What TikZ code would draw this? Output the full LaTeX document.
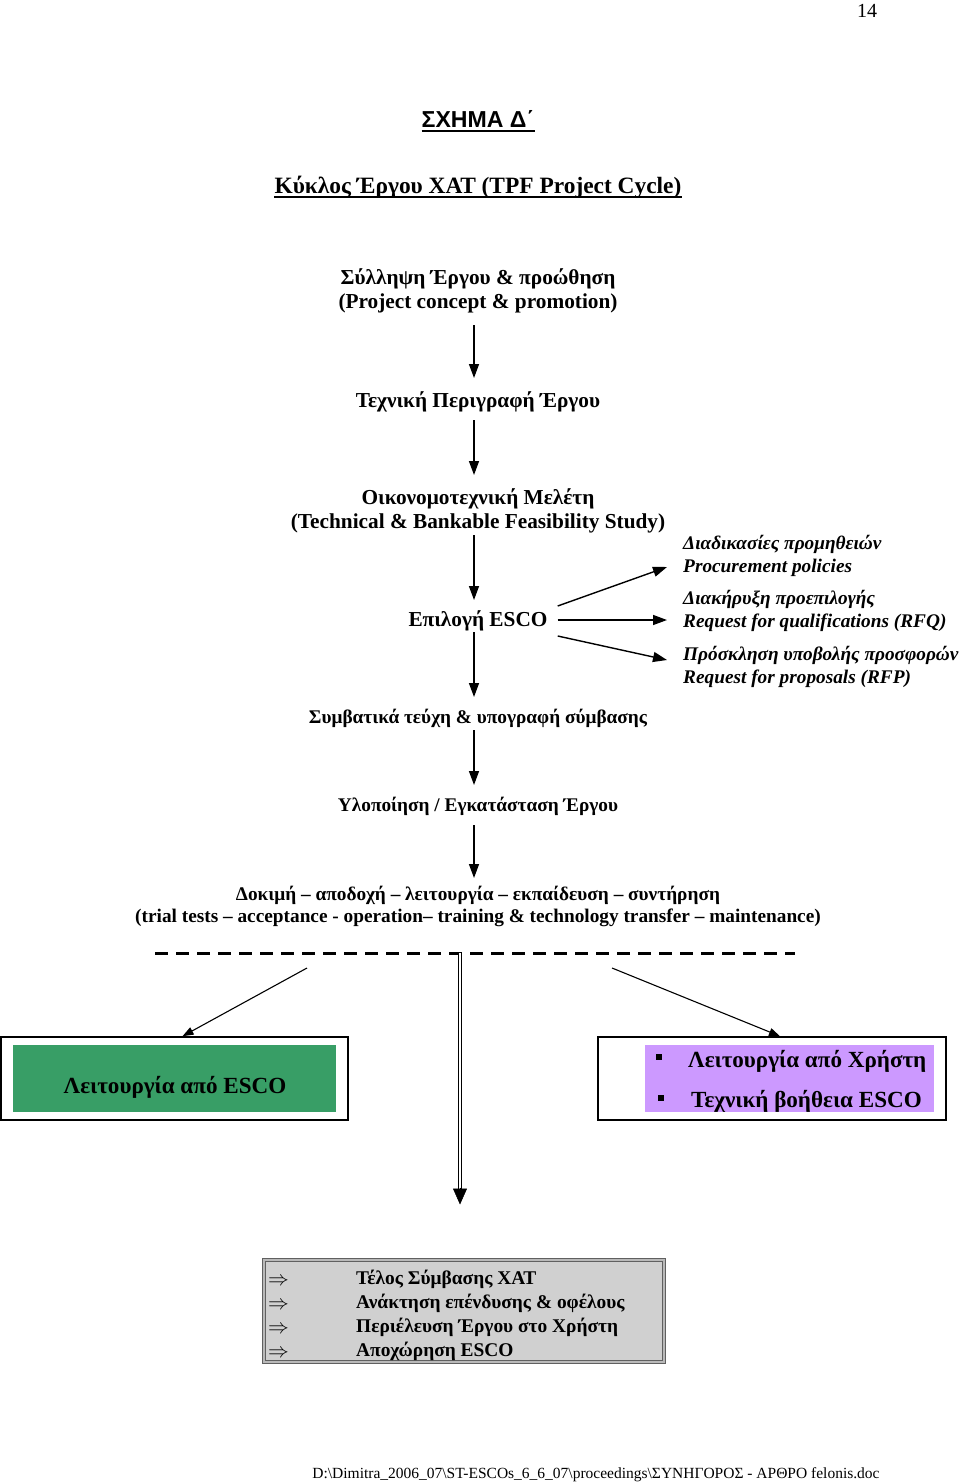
\documentclass[tikz,border=0pt]{standalone}
\usepackage{fontspec}
\setmainfont{Liberation Serif}
\newfontfamily\arialfont{Liberation Sans}
\usetikzlibrary{arrows.meta}
\definecolor{escogreen}{HTML}{389E66}
\definecolor{userpurple}{HTML}{CC99FF}
\definecolor{endgrey}{HTML}{D0D0D0}
\tikzset{
  txt/.style={inner sep=0pt, anchor=base, align=center, font=\bfseries\fontsize{21.3}{24}\selectfont},
  smalltxt/.style={inner sep=0pt, anchor=base, align=center, font=\bfseries\fontsize{19.3}{22}\selectfont},
  itxt/.style={inner sep=0pt, anchor=base west, align=left, font=\bfseries\itshape\fontsize{19.3}{23}\selectfont},
  boxtxt/.style={inner sep=0pt, anchor=base west, font=\bfseries\fontsize{23.1}{26}\selectfont},
  endtxt/.style={inner sep=0pt, anchor=base west, font=\bfseries\fontsize{19.4}{24}\selectfont},
  flow/.style={line width=1.4pt, -{Triangle[length=14pt,width=10pt]}},
  thinflow/.style={line width=1.1pt, -{Triangle[length=11pt,width=8pt]}},
  outerbox/.style={draw=black, line width=1.6pt, fill=white, inner sep=0pt},
  innerbox/.style={inner sep=0pt, draw=none},
  uline/.style={line width=1.8pt},
  implies/.style={inner sep=0pt, anchor=base west, font=\fontsize{20}{24}\selectfont},
}
\begin{document}
\begin{tikzpicture}[x=1pt,y=-1pt]
\useasboundingbox (0,0) rectangle (960,1483);

% page number
\node[inner sep=0pt, anchor=base, font=\fontsize{20}{24}\selectfont] (pg) at (867,17) {14};

% titles
\node[inner sep=0pt, anchor=base, font=\arialfont\bfseries\fontsize{23.1}{26}\selectfont] (t1) at (478,127) {ΣΧΗΜΑ Δ΄};
\draw[uline] ([yshift=-4pt]t1.base west) -- ([yshift=-4pt]t1.base east);
\node[inner sep=0pt, anchor=base, font=\bfseries\fontsize{23.4}{26}\selectfont] (t2) at (478,193) {Κύκλος Έργου ΧΑΤ (TPF Project Cycle)};
\draw[uline] ([yshift=-4pt]t2.base west) -- ([yshift=-4pt]t2.base east);

% main chain (base anchor of a two-line node = its last line)
\coordinate (ax) at (474,0);
\node[txt] (n1) at (478,308) {Σύλληψη Έργου \& προώθηση\\(Project concept \& promotion)};
\node[txt] (n2) at (478,407) {Τεχνική Περιγραφή Έργου};
\node[txt] (n3) at (478,528) {Οικονομοτεχνική Μελέτη\\(Technical \& Bankable Feasibility Study)};
\node[txt] (n4) at (478,626) {Επιλογή ESCO};
\node[smalltxt] (n5) at (478,723) {Συμβατικά τεύχη \& υπογραφή σύμβασης};
\node[smalltxt] (n6) at (478,811) {Υλοποίηση / Εγκατάσταση Έργου};
\node[smalltxt] (n7) at (478,922) {Δοκιμή – αποδοχή – λειτουργία – εκπαίδευση – συντήρηση\\(trial tests – acceptance - operation– training \& technology transfer – maintenance)};

\draw[flow] ([yshift=-17pt]n1.base -| ax) -- ([yshift=29pt]n2.base -| ax);
\draw[flow] ([yshift=-13pt]n2.base -| ax) -- ([yshift=53pt]n3.base -| ax);
\draw[flow] ([yshift=-7pt]n3.base -| ax) -- ([yshift=26pt]n4.base -| ax);
\draw[flow] ([yshift=-6pt]n4.base -| ax) -- ([yshift=26pt]n5.base -| ax);
\draw[flow] ([yshift=-7pt]n5.base -| ax) -- ([yshift=26pt]n6.base -| ax);
\draw[flow] ([yshift=-14pt]n6.base -| ax) -- ([yshift=44pt]n7.base -| ax);

% procurement branches
\node[itxt] (r1) at (683,572) {Διαδικασίες προμηθειών\\Procurement policies};
\node[itxt] (r2) at (683,627) {Διακήρυξη προεπιλογής\\Request for qualifications (RFQ)};
\node[itxt] (r3) at (683,683) {Πρόσκληση υποβολής προσφορών\\Request for proposals (RFP)};
\draw[flow] ([xshift=10pt,yshift=20pt]n4.base east) -- ([xshift=-16pt,yshift=5pt]r1.base west);
\draw[flow] ([xshift=10pt,yshift=6pt]n4.base east) -- ([xshift=-16pt,yshift=7pt]r2.base west);
\draw[flow] ([xshift=10pt,yshift=-10pt]n4.base east) -- ([xshift=-16pt,yshift=23pt]r3.base west);

% dashed split line
\coordinate (dl) at (155,953);
\coordinate (dr) at (795,953);
\coordinate (split) at (460,953);
\draw[line width=3pt, dash pattern=on 13pt off 8pt] (dl) -- (dr);

% outcome boxes
\node[outerbox, minimum width=347pt, minimum height=83pt] (lb) at (174.5,1078.5) {};
\node[innerbox, fill=escogreen, minimum width=323pt, minimum height=67pt] (lg) at (174.5,1078.5) {};
\node[boxtxt, anchor=base] (lt) at (175,1093) {Λειτουργία από ESCO};

\node[outerbox, minimum width=348pt, minimum height=83pt] (rb) at (772,1078.5) {};
\node[innerbox, fill=userpurple, minimum width=289pt, minimum height=67pt] (rp) at (789.5,1078.5) {};
\node[boxtxt] (u1) at (688,1067) {Λειτουργία από Χρήστη};
\node[boxtxt] (u2) at (691,1107) {Τεχνική βοήθεια ESCO};
\node[fill=black, inner sep=0pt, minimum size=6pt] (b1) at (659,1057) {};
\node[fill=black, inner sep=0pt, minimum size=6pt] (b2) at (661,1098) {};

\coordinate (ls) at (307,968);
\coordinate (rs) at (612,968);
\draw[thinflow] (ls) -- ([xshift=8pt]lb.north);
\draw[thinflow] (rs) -- ([xshift=8pt]rb.north);

% end box
\node[draw=gray!75!black, line width=1pt, double=gray!55, double distance=1.6pt, fill=endgrey,
      minimum width=400pt, minimum height=102pt, inner sep=0pt] (bb) at (464,1311) {};
\node[implies] (a1) at (268,1285) {$\Rightarrow$};
\node[implies] (a2) at (268,1309) {$\Rightarrow$};
\node[implies] (a3) at (268,1333) {$\Rightarrow$};
\node[implies] (a4) at (268,1357) {$\Rightarrow$};
\node[endtxt] (e1) at (356,1284) {Τέλος Σύμβασης ΧΑΤ};
\node[endtxt] (e2) at (356,1308) {Ανάκτηση επένδυσης \& οφέλους};
\node[endtxt] (e3) at (356,1332) {Περιέλευση Έργου στο Χρήστη};
\node[endtxt] (e4) at (356,1356) {Αποχώρηση ESCO};

% double arrow to end box
\draw[line width=0.9pt, double distance=2.4pt] (split) -- ([yshift=68pt]bb.north -| split);
\draw[line width=0.5pt, -{Triangle[length=16pt,width=14pt]}] ([yshift=72pt]bb.north -| split) -- ([yshift=55pt]bb.north -| split);

% footer
\node[inner sep=0pt, anchor=base, font=\fontsize{15.5}{18}\selectfont] (ft) at (596,1478)
  {D:\textbackslash Dimitra\_2006\_07\textbackslash ST-ESCOs\_6\_6\_07\textbackslash proceedings\textbackslash ΣΥΝΗΓΟΡΟΣ - ΑΡΘΡΟ felonis.doc};
\end{tikzpicture}
\end{document}
